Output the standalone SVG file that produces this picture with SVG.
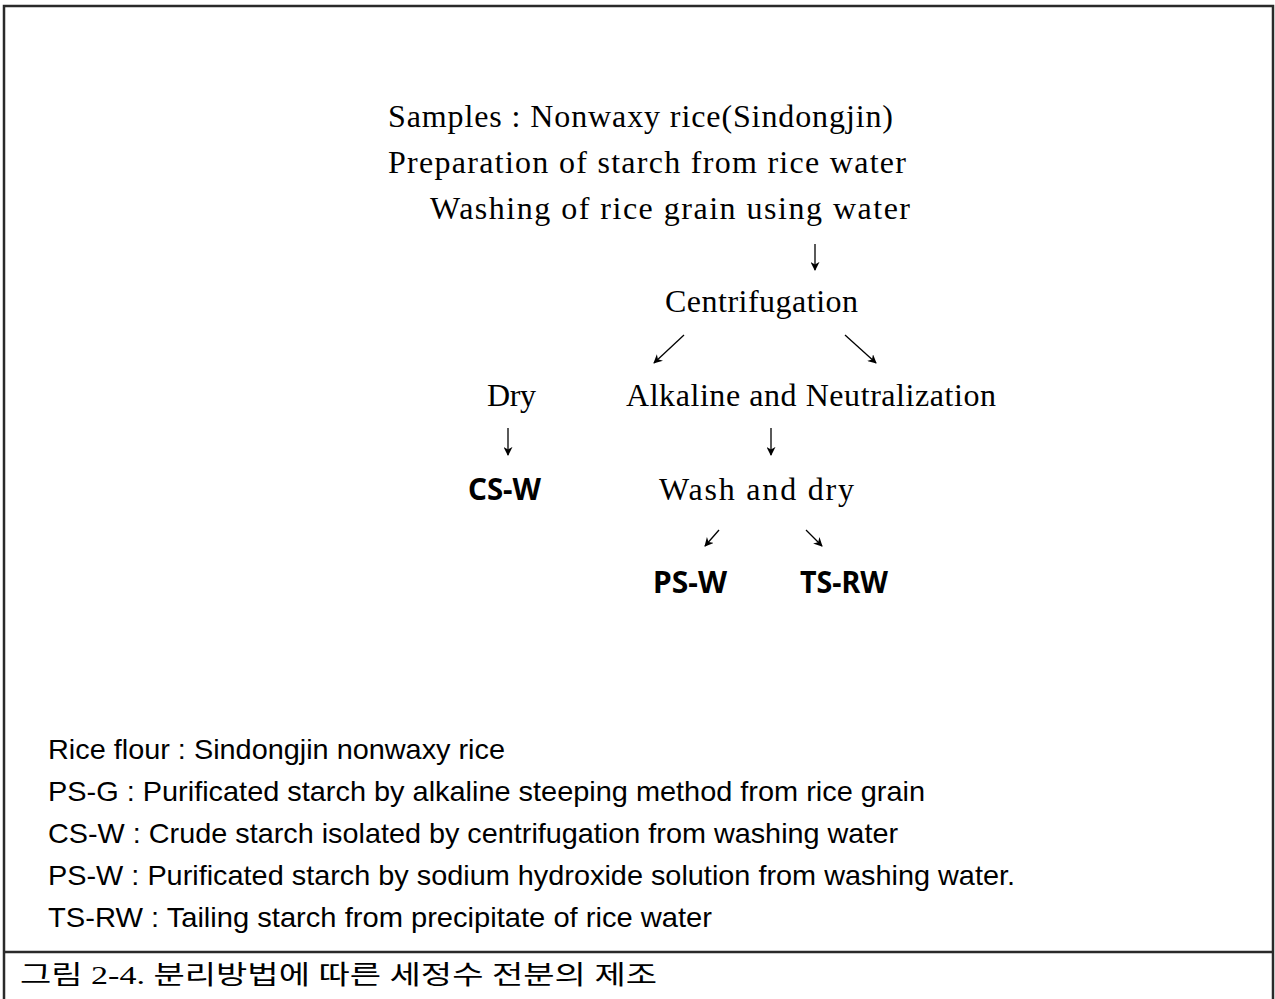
<svg xmlns="http://www.w3.org/2000/svg" width="1275" height="999" viewBox="0 0 1275 999">
<style>
.s{font-family:"Liberation Serif","DejaVu Serif",serif;font-size:32px;fill:#000}
.b{font-family:"Noto Sans","Liberation Sans",sans-serif;font-size:30px;font-weight:bold;fill:#000}
.l{font-family:"Liberation Sans","Noto Sans",sans-serif;font-size:28px;fill:#000}
.c{font-family:"Liberation Serif","Noto Sans CJK KR",serif;font-size:26px;fill:#000}
.frame{stroke:#2a2a2a;stroke-width:2.5;fill:none}
.e{stroke:#000;stroke-width:1.3;fill:none;marker-end:url(#ah)}
</style>
<defs>
<marker id="ah" viewBox="0 0 10 10" refX="9" refY="5" markerWidth="9" markerHeight="9" markerUnits="userSpaceOnUse" orient="auto">
<path d="M0,0 L10,5 L0,10 L3,5 z" fill="#000"/>
</marker>
</defs>
<rect width="1275" height="999" fill="#fff"/>
<g id="frame">
<path class="frame" d="M4,999 V6 H1273 V999"/>
<line x1="4" y1="952" x2="1273" y2="952" class="frame"/>
</g>
<g id="connectors">
<line class="e" x1="815" y1="244" x2="815" y2="270"/>
<line class="e" x1="684" y1="335" x2="654" y2="363"/>
<line class="e" x1="845" y1="335" x2="876" y2="363"/>
<line class="e" x1="508" y1="428" x2="508" y2="455"/>
<line class="e" x1="771" y1="428" x2="771" y2="455"/>
<line class="e" x1="719" y1="530" x2="705" y2="546"/>
<line class="e" x1="806" y1="530" x2="822" y2="546"/>
</g>
<g id="n-samples"><text class="s" x="388" y="127" textLength="505" lengthAdjust="spacing">Samples : Nonwaxy rice(Sindongjin)</text></g>
<g id="n-prep"><text class="s" x="388" y="173" textLength="518" lengthAdjust="spacing">Preparation of starch from rice water</text></g>
<g id="n-washing"><text class="s" x="430" y="219" textLength="480" lengthAdjust="spacing">Washing of rice grain using water</text></g>
<g id="n-centrifugation"><text class="s" x="665" y="312" textLength="193" lengthAdjust="spacing">Centrifugation</text></g>
<g id="n-dry"><text class="s" x="487" y="406" textLength="49" lengthAdjust="spacing">Dry</text></g>
<g id="n-alkaline"><text class="s" x="626" y="406" textLength="370" lengthAdjust="spacing">Alkaline and Neutralization</text></g>
<g id="n-csw"><text class="b" x="468" y="500" textLength="73" lengthAdjust="spacingAndGlyphs">CS-W</text></g>
<g id="n-washdry"><text class="s" x="659" y="500" textLength="195" lengthAdjust="spacing">Wash and dry</text></g>
<g id="n-psw"><text class="b" x="653" y="593" textLength="74" lengthAdjust="spacingAndGlyphs">PS-W</text></g>
<g id="n-tsrw"><text class="b" x="800" y="593" textLength="88" lengthAdjust="spacingAndGlyphs">TS-RW</text></g>
<g id="legend">
<text class="l" x="48" y="759" textLength="457" lengthAdjust="spacingAndGlyphs">Rice flour : Sindongjin nonwaxy rice</text>
<text class="l" x="48" y="801" textLength="877" lengthAdjust="spacingAndGlyphs">PS-G : Purificated starch by alkaline steeping method from rice grain</text>
<text class="l" x="48" y="843" textLength="850" lengthAdjust="spacingAndGlyphs">CS-W : Crude starch isolated by centrifugation from washing water</text>
<text class="l" x="48" y="885" textLength="967" lengthAdjust="spacingAndGlyphs">PS-W : Purificated starch by sodium hydroxide solution from washing water.</text>
<text class="l" x="48" y="927" textLength="664" lengthAdjust="spacingAndGlyphs">TS-RW : Tailing starch from precipitate of rice water</text>
</g>
<g id="caption"><text class="c" x="20" y="984" textLength="637" lengthAdjust="spacingAndGlyphs">그림 2-4. 분리방법에 따른 세정수 전분의 제조</text></g>
</svg>
